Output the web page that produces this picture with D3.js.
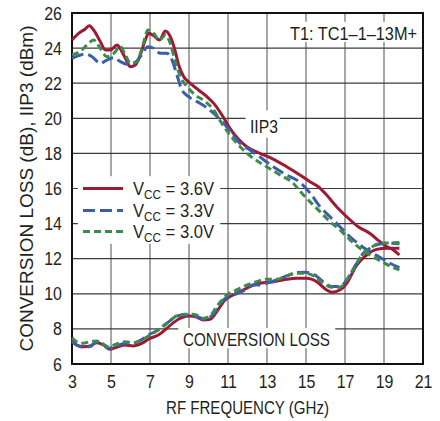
<!DOCTYPE html>
<html><head><meta charset="utf-8">
<script src="https://cdn.jsdelivr.net/npm/d3@7/dist/d3.min.js"></script>
<style>
html,body{margin:0;padding:0;background:#fff;}
svg{display:block;}
text{font-family:"Liberation Sans Narrow","Arial Narrow","Liberation Sans",Arial,sans-serif;fill:#231f20;}
</style></head>
<body>
<svg id="c" width="440" height="421"></svg>
<script>
// ---- data ----
const xTicks = [3,5,7,9,11,13,15,17,19,21];
const yTicks = [6,8,10,12,14,16,18,20,22,24,26];
const seriesNames = ["V_CC = 3.6V","V_CC = 3.3V","V_CC = 3.0V"];
const seriesColors = ["#9e1a32","#3d5cab","#3b8b4c"];

const iip3_36_f = [3,3.34,3.68,3.89,4.11,4.45,4.71,4.97,5.31,5.56,5.82,5.99,6.25,6.5,6.76,6.93,7.19,7.48,7.79,8.04,8.3,8.47,8.73,9.07,9.5,9.92,10.27,10.69,11.1,11.96,12.64,13.24,14.01,14.69,15.2,15.63,16.06,16.57,17.09,17.68,18.28,18.79,19.14,19.48,19.79];
const iip3_36_v = [24.46,24.84,25.09,25.28,25.03,24.37,23.89,23.89,24.18,23.8,23.23,22.94,23.04,23.6,24.46,24.84,24.71,24.46,24.97,24.65,23.8,23.04,22.37,21.99,21.6,21.23,20.85,20.19,19.43,18.38,18.0,17.72,17.24,16.77,16.39,16.1,15.63,14.96,14.39,13.82,13.44,12.97,12.68,12.5,12.21];

const iip3_33_f = [3,3.34,3.68,4.03,4.45,4.79,5.14,5.48,5.82,6.16,6.5,6.9,7.19,7.53,7.87,8.13,8.38,8.64,8.98,9.41,9.84,10.27,10.69,11.1,11.53,12.13,12.73,13.32,14.01,14.69,15.2,15.72,16.23,16.74,17.26,17.77,18.28,18.79,19.31,19.79];
const iip3_33_v = [23.42,23.57,23.66,23.51,23.13,23.32,23.45,23.23,23.08,23.13,23.51,24.08,23.99,23.7,23.7,23.32,22.47,21.61,21.23,20.95,20.66,20.28,19.81,19.3,18.67,18.19,17.72,17.24,16.77,16.35,15.75,14.96,14.39,13.82,13.25,12.78,12.4,12.08,11.74,11.49];

const iip3_30_f = [3,3.43,3.77,4.11,4.45,4.79,5.14,5.48,5.74,5.99,6.33,6.59,6.9,7.19,7.48,7.79,8.04,8.3,8.56,8.9,9.32,9.84,10.27,10.69,11.1,11.7,12.3,12.98,13.67,14.35,14.69,15.2,15.72,16.23,16.74,17.26,17.77,18.28,18.79,19.31,19.79];
const iip3_30_v = [23.61,23.83,24.18,24.46,23.99,23.51,23.7,24.08,23.61,23.13,23.23,23.99,25.03,24.84,24.46,24.75,24.27,23.23,22.37,21.8,21.33,20.95,20.47,19.7,19.05,18.29,17.72,17.24,16.77,16.3,15.85,15.25,14.68,14.11,13.64,13.07,12.59,12.21,11.89,11.58,11.36];

const cl_36_f = [3,3.24,3.58,3.92,4.26,4.61,4.92,5.29,5.72,6.14,6.58,7,7.43,7.86,8.2,8.63,9.05,9.39,9.73,10.08,10.42,10.85,11.27,11.79,12.3,12.81,13.32,14.01,14.52,15.03,15.55,16.06,16.32,16.74,17.09,17.6,18.11,18.62,19.14,19.79];
const cl_36_v = [7.37,7.08,6.99,7.03,7.21,7.08,6.84,6.95,7.08,7.03,7.18,7.46,7.65,8.03,8.36,8.64,8.73,8.67,8.51,8.55,8.98,9.65,9.93,10.22,10.5,10.63,10.69,10.83,10.88,10.88,10.69,10.22,10.09,10.22,10.6,11.64,12.21,12.53,12.6,12.6];

const cl_33_f = [3,3.24,3.58,3.92,4.18,4.44,4.69,4.92,5.29,5.72,6.14,6.49,6.91,7.26,7.68,8.03,8.37,8.79,9.22,9.56,9.73,10.08,10.42,10.85,11.27,11.79,12.3,12.64,12.98,13.5,14.01,14.52,14.95,15.37,15.89,16.32,16.74,17.09,17.6,17.94,18.28,18.79,19.31,19.79];
const cl_33_v = [7.27,7.08,6.95,6.99,7.21,7.27,7.03,6.9,7.03,7.18,7.18,7.33,7.65,7.84,8.13,8.47,8.74,8.79,8.75,8.64,8.55,8.67,9.08,9.74,9.93,10.17,10.5,10.5,10.6,10.79,11.02,11.21,11.23,11.13,10.69,10.41,10.41,10.79,11.74,12.31,12.59,12.84,12.88,12.85];

const cl_30_f = [3,3.24,3.58,3.92,4.26,4.52,4.87,5.29,5.72,6.14,6.49,7,7.51,8.03,8.37,8.79,9.22,9.56,9.73,10.08,10.42,10.94,11.44,11.96,12.47,12.98,13.5,14.01,14.52,14.95,15.37,15.89,16.32,16.74,17.09,17.6,17.94,18.28,18.79,19.31,19.79];
const cl_30_v = [7.5,7.27,7.18,7.27,7.31,7.18,6.99,7.14,7.27,7.21,7.33,7.65,8.03,8.47,8.75,8.83,8.83,8.7,8.6,8.74,9.27,9.93,10.22,10.5,10.69,10.83,10.83,11.02,11.17,11.17,11.04,10.6,10.37,10.37,10.79,11.74,12.31,12.59,12.88,12.9,12.92];

// ---- chart ----
const L = 72, R = 423, T = 13, B = 364;
const SX = 0.84;
const x = d3.scaleLinear().domain([3,21]).range([L,R]);
const y = d3.scaleLinear().domain([6,26]).range([B,T]);
const svg = d3.select("#c");

// grid
const g = svg.append("g");
g.selectAll("line.v").data(xTicks.slice(1,-1)).enter().append("line")
  .attr("x1",d=>x(d)).attr("x2",d=>x(d)).attr("y1",T).attr("y2",B)
  .attr("stroke","#8a8a8a").attr("stroke-width",1.5);
g.selectAll("line.h").data(yTicks.slice(1,-1)).enter().append("line")
  .attr("x1",L).attr("x2",R).attr("y1",d=>y(d)).attr("y2",d=>y(d))
  .attr("stroke","#3c3c3c").attr("stroke-width",1.2);

// label masks
const masks = [
  [x(3.3), y(16.7), x(10.6)-x(3.3), y(12.85)-y(16.7)],   // legend
  [x(11.9), y(20.45), x(13.65)-x(11.9), y(18.9)-y(20.45)], // IIP3
  [x(8.45), y(8.05), x(16.5)-x(8.45), y(6.9)-y(8.05)],    // CONVERSION LOSS
  [x(14.6), y(25.5), x(20.8)-x(14.6), y(24.35)-y(25.5)]   // T1
];
svg.append("g").selectAll("rect").data(masks).enter().append("rect")
  .attr("x",d=>d[0]).attr("y",d=>d[1]).attr("width",d=>d[2]).attr("height",d=>d[3])
  .attr("fill","#fff");

// frame
svg.append("rect").attr("x",L).attr("y",T).attr("width",R-L).attr("height",B-T)
  .attr("fill","none").attr("stroke","#111").attr("stroke-width",2);

// axes tick labels
const xAxis = d3.axisBottom(x).tickValues(xTicks).tickSize(0).tickPadding(11);
const xg = svg.append("g").attr("transform",`translate(0,${B})`).call(xAxis);
xg.select(".domain").remove();
xg.selectAll("text").attr("font-size",19).attr("fill","#231f20")
  .attr("transform",`scale(${SX},1)`)
  .style("font-family",'"Liberation Sans",Arial,sans-serif');

const yAxis = d3.axisLeft(y).tickValues(yTicks).tickSize(0).tickPadding(10);
const yg = svg.append("g").attr("transform",`translate(${L},0)`).call(yAxis);
yg.select(".domain").remove();
yg.selectAll("text").attr("font-size",19).attr("fill","#231f20")
  .attr("x",0).attr("transform",`translate(-10,0) scale(${SX},1)`)
  .style("font-family",'"Liberation Sans",Arial,sans-serif');

// axis titles
svg.append("text").attr("x",(L+R)/2).attr("y",414).attr("text-anchor","middle")
  .attr("font-size",18).attr("textLength",163).attr("lengthAdjust","spacingAndGlyphs")
  .text("RF FREQUENCY (GHz)");
svg.append("text").attr("transform",`translate(33,${(T+B)/2+0}) rotate(-90)`)
  .attr("text-anchor","middle").attr("font-size",18)
  .attr("textLength",326).attr("lengthAdjust","spacingAndGlyphs")
  .text("CONVERSION LOSS (dB), IIP3 (dBm)");

// annotations
svg.append("text").attr("x",290).attr("y",40).attr("font-size",18)
  .attr("textLength",127).attr("lengthAdjust","spacingAndGlyphs")
  .text("T1: TC1\u20131\u201313M+");
svg.append("text").attr("x",250).attr("y",y(19.6)+7.5).attr("font-size",18)
  .attr("textLength",28).attr("lengthAdjust","spacingAndGlyphs").text("IIP3");
svg.append("text").attr("x",183).attr("y",y(7.45)+7).attr("font-size",18)
  .attr("textLength",147).attr("lengthAdjust","spacingAndGlyphs").text("CONVERSION LOSS");

// series lines
const dashes = [null,"12,5","7,4"];
const line = d3.line().x(d=>x(d[0])).y(d=>y(d[1])).curve(d3.curveMonotoneX);
const zip = (f,v)=>f.map((d,i)=>[d,v[i]]);
const sets = [
  [zip(iip3_36_f,iip3_36_v), zip(cl_36_f,cl_36_v)],
  [zip(iip3_33_f,iip3_33_v), zip(cl_33_f,cl_33_v)],
  [zip(iip3_30_f,iip3_30_v), zip(cl_30_f,cl_30_v)]
];
const lg = svg.append("g");
sets.forEach((s,i)=>{
  s.forEach(pts=>{
    lg.append("path").attr("d",line(pts)).attr("fill","none")
      .attr("stroke",seriesColors[i]).attr("stroke-width",3)
      .attr("stroke-dasharray",dashes[i]);
  });
});

// legend
const legY = [16, 14.75, 13.55];
const LSX = 0.9;
const leg = svg.append("g");
seriesNames.forEach((n,i)=>{
  const yy = y(legY[i]);
  leg.append("line").attr("x1",83).attr("x2",123).attr("y1",yy).attr("y2",yy)
    .attr("stroke",seriesColors[i]).attr("stroke-width",3)
    .attr("stroke-dasharray",dashes[i]);
  const t = leg.append("text").attr("x",133).attr("y",yy+7).attr("font-size",18.5)
    .attr("transform",`translate(133,0) scale(${LSX},1) translate(-133,0)`);
  const parts = n.split("_");
  const rest = parts[1].split(" ");
  t.append("tspan").text(parts[0]);
  t.append("tspan").attr("font-size",13).attr("dy",4).text(rest[0]);
  t.append("tspan").attr("dy",-4).text(" " + rest.slice(1).join(" "));
});
</script>
</body></html>
